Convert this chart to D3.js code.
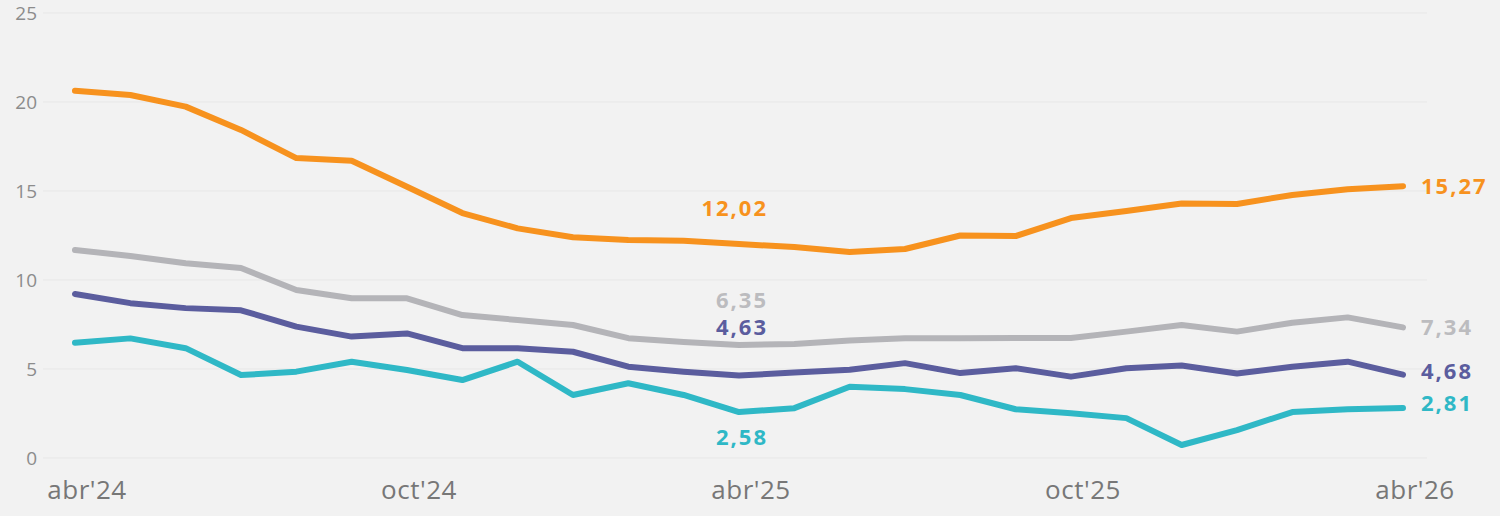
<!DOCTYPE html>
<html>
<head>
<meta charset="utf-8">
<script src="https://cdn.jsdelivr.net/npm/d3@7/dist/d3.min.js"></script>
<style>
  html, body { margin: 0; padding: 0; background: #f2f2f2; }
  svg { display: block; font-family: 'Open Sans', sans-serif; }
</style>
</head>
<body>
<div id="chart"></div>
<script>
// monthly points, abr'24 .. abr'26
var months = d3.range(0, 25);
var tickMonths = [0, 6, 12, 18, 24];
var tickLabels = ["abr'24", "oct'24", "abr'25", "oct'25", "abr'26"];
var yTicks = [0, 5, 10, 15, 20, 25];

var orangeValues = [20.63, 20.39, 19.74, 18.43, 16.85, 16.70, 15.24, 13.76, 12.90, 12.40, 12.25, 12.20, 12.02,
                    11.85, 11.57, 11.74, 12.50, 12.47, 13.48, 13.88, 14.30, 14.27, 14.78, 15.10, 15.27];
var grayValues   = [11.69, 11.35, 10.94, 10.67, 9.44, 8.97, 8.97, 8.03, 7.75, 7.47, 6.73, 6.52, 6.35,
                    6.40, 6.60, 6.73, 6.73, 6.74, 6.74, 7.10, 7.47, 7.10, 7.60, 7.90, 7.34];
var navyValues   = [9.21, 8.70, 8.42, 8.30, 7.38, 6.82, 7.00, 6.17, 6.17, 5.97, 5.13, 4.85, 4.63,
                    4.80, 4.96, 5.33, 4.77, 5.04, 4.57, 5.04, 5.20, 4.75, 5.13, 5.41, 4.68];
var tealValues   = [6.47, 6.72, 6.17, 4.66, 4.85, 5.41, 4.94, 4.38, 5.41, 3.54, 4.20, 3.54, 2.58,
                    2.80, 4.00, 3.87, 3.54, 2.74, 2.52, 2.24, 0.73, 1.57, 2.58, 2.74, 2.81];

var series = [
    {name: 'gray', values: grayValues, color: '#b4b4b8', label: '#bcbcbf', mid: '6,35', end: '7,34', midDy: -45},
    {name: 'navy', values: navyValues, color: '#5b5d9e', label: '#5b5d9e', mid: '4,63', end: '4,68', midDy: -48},
    {name: 'teal', values: tealValues, color: '#2fb8c6', label: '#2fb8c6', mid: '2,58', end: '2,81', midDy: 25},
    {name: 'orange', values: orangeValues, color: '#f7921e', label: '#f7921e', mid: '12,02', end: '15,27', midDy: -36}
];

var width = 1500,
    height = 516,
    plotLeft = 75,
    plotRight = 1403,
    gridLeft = 43,
    gridRight = 1427;

var x = d3.scaleLinear()
    .domain([0, 24])
    .range([plotLeft, plotRight]);

var y = d3.scaleLinear()
    .domain([0, 25])
    .range([458, 13]);

var svg = d3.select('#chart').append('svg')
    .attr('width', width)
    .attr('height', height);

svg.append('rect')
    .attr('width', width)
    .attr('height', height)
    .attr('fill', '#f2f2f2');

// horizontal grid + y labels
svg.append('g').selectAll('line')
    .data(yTicks)
  .enter().append('line')
    .attr('x1', gridLeft)
    .attr('x2', gridRight)
    .attr('y1', function(d) { return y(d); })
    .attr('y2', function(d) { return y(d); })
    .attr('stroke', '#e7e7e7')
    .attr('stroke-width', 1);

svg.append('g').selectAll('text')
    .data(yTicks)
  .enter().append('text')
    .attr('x', 37)
    .attr('y', function(d) { return y(d); })
    .attr('dy', '0.35em')
    .attr('text-anchor', 'end')
    .attr('fill', '#8c8c8c')
    .style('font-size', '19px')
    .text(function(d) { return d; });

// x labels
svg.append('g').selectAll('text')
    .data(tickMonths)
  .enter().append('text')
    .attr('x', function(d) { return x(d) + 12; })
    .attr('y', 499)
    .attr('text-anchor', 'middle')
    .attr('fill', '#777')
    .style('font-size', '26px')
    .style('letter-spacing', '0.5px')
    .text(function(d, i) { return tickLabels[i]; });

var line = d3.line()
    .x(function(d, i) { return x(months[i]); })
    .y(function(d) { return y(d); });

svg.append('g').selectAll('path')
    .data(series)
  .enter().append('path')
    .attr('d', function(s) { return line(s.values); })
    .attr('fill', 'none')
    .attr('stroke', function(s) { return s.color; })
    .attr('stroke-width', 6)
    .attr('stroke-linejoin', 'round')
    .attr('stroke-linecap', 'round');

// value labels at abr'25
svg.append('g').selectAll('text')
    .data(series)
  .enter().append('text')
    .attr('x', x(12) + 29)
    .attr('y', function(s) { return y(s.values[12]) + s.midDy; })
    .attr('dy', '0.35em')
    .attr('text-anchor', 'end')
    .attr('fill', function(s) { return s.label; })
    .style('font-size', '22px')
    .style('font-weight', 'bold')
    .style('letter-spacing', '2px')
    .text(function(s) { return s.mid; });

// value labels at the end
var endDy = {orange: 0, gray: 0, navy: -3, teal: -5};
svg.append('g').selectAll('text')
    .data(series)
  .enter().append('text')
    .attr('x', x(24) + 18)
    .attr('y', function(s) { return y(s.values[24]) + endDy[s.name]; })
    .attr('dy', '0.35em')
    .attr('fill', function(s) { return s.label; })
    .style('font-size', '22px')
    .style('font-weight', 'bold')
    .style('letter-spacing', '2px')
    .text(function(s) { return s.end; });
</script>
</body>
</html>
